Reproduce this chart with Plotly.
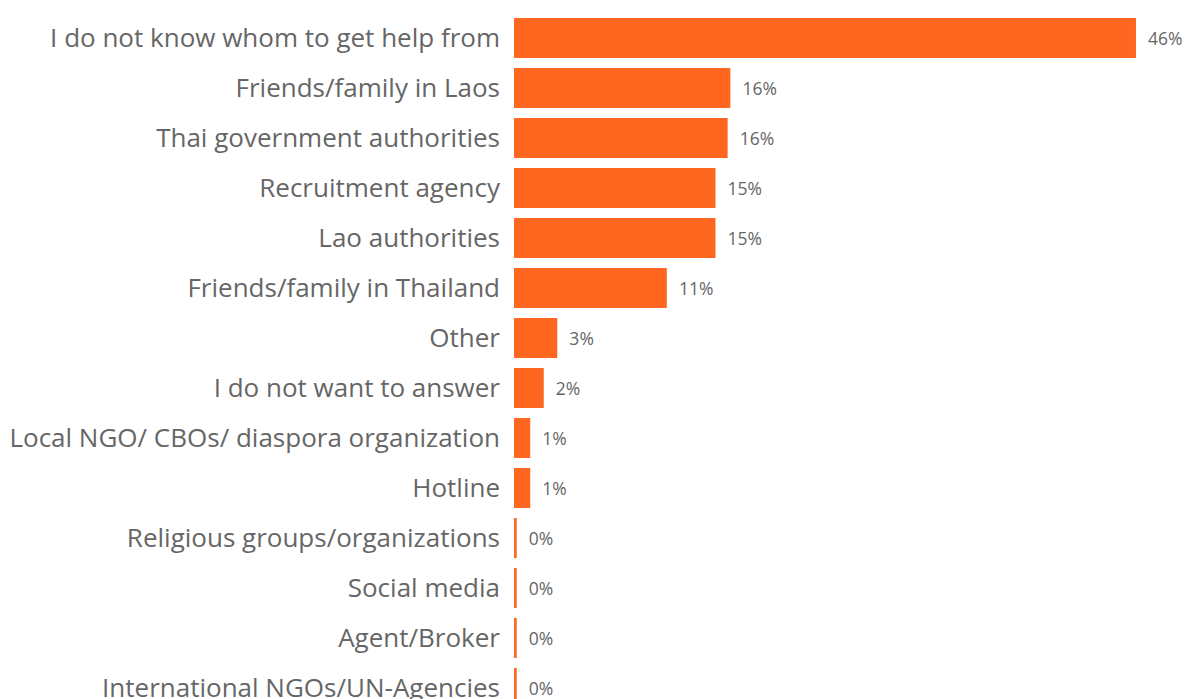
import plotly.graph_objects as go

# Where respondents would turn for help (share of respondents, %)
categories = [
    "I do not know whom to get help from",
    "Friends/family in Laos",
    "Thai government authorities",
    "Recruitment agency",
    "Lao authorities",
    "Friends/family in Thailand",
    "Other",
    "I do not want to answer",
    "Local NGO/ CBOs/ diaspora organization",
    "Hotline",
    "Religious groups/organizations",
    "Social media",
    "Agent/Broker",
    "International NGOs/UN-Agencies",
]
shares = [46.0, 16.0, 15.8, 14.9, 14.9, 11.3, 3.2, 2.2, 1.2, 1.2, 0.2, 0.2, 0.2, 0.2]

BAR_COLOR = "#FF6620"
TEXT_COLOR = "#666666"
FONT = "Open Sans"

fig = go.Figure(
    go.Bar(
        x=shares,
        y=categories,
        orientation="h",
        marker=dict(color=BAR_COLOR, line=dict(width=0)),
        width=0.8,
        texttemplate="  %{x:.0f}%",
        textposition="outside",
        textfont=dict(family=FONT, size=17.5, color=TEXT_COLOR),
        cliponaxis=False,
        hoverinfo="skip",
    )
)

fig.update_layout(
    width=1186,
    height=699,
    margin=dict(l=514, r=0, t=13, b=0),
    paper_bgcolor="white",
    plot_bgcolor="white",
    showlegend=False,
    font=dict(family=FONT, color=TEXT_COLOR),
    xaxis=dict(
        range=[0, 49.7],
        visible=False,
        showgrid=False,
        zeroline=False,
        automargin=False,
    ),
    yaxis=dict(
        range=[13.22, -0.5],
        automargin=False,
        showgrid=False,
        zeroline=False,
        showline=False,
        ticks="",
        ticklabelstandoff=13,
        tickfont=dict(family=FONT, size=26, color=TEXT_COLOR),
    ),
)

fig.write_html("out.html")
